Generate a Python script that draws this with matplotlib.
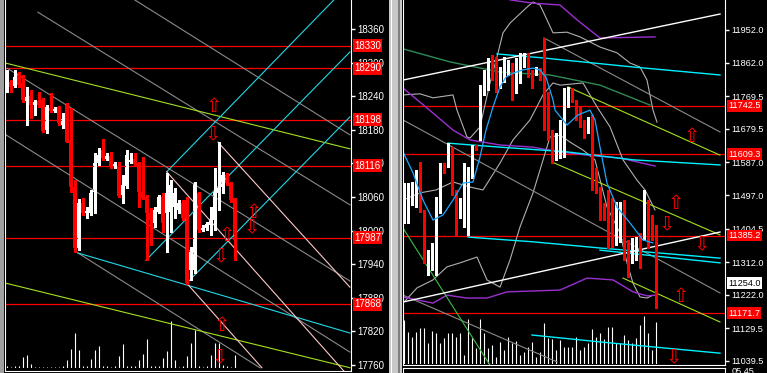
import matplotlib
matplotlib.use("Agg")
import matplotlib.pyplot as plt
from matplotlib.patches import Rectangle

plt.rcParams['font.family'] = ['Liberation Sans', 'DejaVu Sans']

# ---------------- left chart (index 17xxx / 18xxx) ----------------
l_open = [18257, 18265, 18258, 18282, 18264, 18232, 18240, 18224, 18232, 18233,
          18180, 18219, 18214, 18221, 18189, 18224, 18162, 18078, 17969, 18049,
          18032, 18032, 18069, 18121, 18144, 18128, 18133, 18114, 18115, 18064,
          18080, 18123, 18128, 18121, 18069, 18060, 18032, 18014, 18033, 18060,
          18032, 18033, 18042, 18037, 18049, 18055, 17930, 17930, 18067, 18001,
          18005, 18010, 18019, 18067, 18078, 18099, 18085, 18058]
l_close = [18269, 18257, 18274, 18260, 18233, 18239, 18224, 18230, 18224, 18178,
           18221, 18214, 18217, 18192, 18199, 18158, 18078, 17969, 18049, 18032,
           18035, 18067, 18121, 18135, 18130, 18133, 18114, 18119, 18062, 18082,
           18135, 18126, 18119, 18069, 18058, 18032, 18019, 18037, 18060, 18014,
           18067, 18082, 18067, 18049, 18023, 17907, 17962, 18085, 18001, 18005,
           18012, 18021, 18069, 18076, 18099, 18085, 18055, 17983]
l_high = [18287, 18269, 18287, 18283, 18278, 18257, 18251, 18233, 18248, 18237,
          18224, 18246, 18221, 18223, 18210, 18228, 18219, 18090, 18057, 18058,
          18042, 18073, 18139, 18148, 18164, 18139, 18140, 18123, 18123, 18099,
          18144, 18139, 18139, 18123, 18132, 18064, 18040, 18042, 18064, 18067,
          18103, 18090, 18076, 18055, 18055, 18060, 17971, 18087, 18069, 18010,
          18015, 18042, 18112, 18158, 18105, 18103, 18087, 18058]
l_low = [18248, 18248, 18257, 18257, 18230, 18189, 18201, 18207, 18221, 18176,
         18174, 18212, 18212, 18189, 18183, 18158, 18069, 17962, 17966, 18028,
         18023, 18028, 18032, 18117, 18126, 18126, 18112, 18112, 18060, 18049,
         18076, 18121, 18117, 18042, 18057, 17948, 17974, 18007, 18032, 17998,
         17962, 17998, 18023, 18032, 18019, 17905, 17912, 17924, 17998, 17999,
         18001, 17992, 18001, 18037, 18067, 18082, 18051, 17948]
l_vol = [5, 2, 5, 7, 33, 40, 13, 3, 3, 3, 3, 3, 3, 3, 5, 25, 57, 107, 53, 5,
         5, 27, 55, 65, 5, 5, 3, 5, 37, 73, 5, 5, 5, 25, 43, 87, 5, 7, 5, 30,
         50, 142, 25, 3, 5, 35, 77, 115, 5, 3, 5, 40, 75, 77, 10, 5, 3, 40]

l_ticks = [17760, 17820, 17880, 17940, 18000, 18060, 18120, 18180, 18240, 18300, 18360]
l_levels = [18330, 18290, 18198, 18116, 17987, 17868]

# trend lines: (bar index, price) pairs
l_gray = [[(7.8, 18390), (85.8, 18046)],
          [(0.1, 18290), (85.8, 17910)],
          [(-0.2, 18171), (85.8, 17783)],
          [(17.8, 17960), (63.3, 17755)],
          [(32.0, 18412), (85.8, 18171)]]
l_lime = [[(-0.2, 18299), (85.8, 18146)],
          [(-0.2, 17906), (85.8, 17755)]]
l_cyan = [[(17.8, 17960), (85.8, 17817)],
          [(40.0, 18105), (81.8, 18412)],
          [(34.8, 17947), (85.8, 18319)],
          [(45.0, 17906), (85.8, 18203)]]
l_pink = [[(40.0, 18105), (85.8, 17737)],
          [(52.8, 18158), (85.8, 17899)],
          [(45.0, 17906), (63.8, 17755)]]
l_up = [(51.8, 18221), (61.8, 18033), (55.1, 17992), (53.8, 17830)]
l_down = [(51.6, 18171), (61.3, 18005), (53.6, 17953), (53.3, 17772)]

# ---------------- right chart (11xxx) ----------------
r_open = [11436, 11464, 11489, 11503, 11561, 11456, 11323, 11332, 11345, 11475,
          11577, 11574, 11607, 11505, 11456, 11475, 11522, 11547, 11629, 11676,
          11792, 11814, 11864, 11842, 11800, 11822, 11842, 11850, 11814, 11842,
          11861, 11883, 11833, 11833, 11842, 11800, 11726, 11668, 11613, 11649,
          11654, 11751, 11787, 11745, 11731, 11698, 11671, 11712, 11566, 11497,
          11464, 11497, 11478, 11401, 11461, 11464, 11368, 11337, 11340, 11373,
          11381, 11423, 11414, 11373]
r_close = [11503, 11483, 11505, 11561, 11450, 11318, 11337, 11351, 11475, 11574,
           11572, 11607, 11511, 11461, 11478, 11519, 11547, 11629, 11624, 11795,
           11814, 11864, 11820, 11800, 11828, 11850, 11861, 11814, 11842, 11864,
           11869, 11828, 11820, 11842, 11828, 11704, 11657, 11599, 11654, 11696,
           11753, 11787, 11767, 11726, 11690, 11671, 11704, 11538, 11505, 11434,
           11436, 11387, 11392, 11464, 11470, 11337, 11318, 11368, 11359, 11318,
           11423, 11409, 11392, 11227]
r_high = [11530, 11530, 11533, 11566, 11588, 11456, 11345, 11365, 11492, 11585,
          11585, 11640, 11629, 11511, 11489, 11585, 11574, 11635, 11635, 11800,
          11842, 11875, 11883, 11878, 11850, 11878, 11869, 11861, 11875, 11889,
          11889, 11889, 11842, 11850, 11847, 11930, 11781, 11676, 11668, 11704,
          11792, 11795, 11792, 11759, 11740, 11704, 11712, 11718, 11572, 11519,
          11475, 11511, 11489, 11478, 11478, 11483, 11373, 11379, 11381, 11392,
          11511, 11483, 11442, 11414]
r_low = [11420, 11420, 11470, 11464, 11450, 11310, 11277, 11290, 11277, 11447,
         11558, 11574, 11497, 11387, 11434, 11409, 11387, 11544, 11621, 11649,
         11773, 11787, 11814, 11781, 11792, 11809, 11828, 11759, 11778, 11806,
         11850, 11822, 11792, 11828, 11814, 11676, 11649, 11585, 11594, 11599,
         11602, 11740, 11753, 11704, 11685, 11654, 11668, 11511, 11503, 11428,
         11428, 11351, 11354, 11359, 11368, 11318, 11271, 11310, 11318, 11296,
         11373, 11351, 11373, 11186]
r_vol = [132, 97, 82, 97, 107, 107, 62, 99, 92, 62, 77, 92, 92, 82, 92, 27,
         134, 77, 47, 134, 94, 47, 57, 22, 67, 42, 82, 62, 70, 27, 37, 52,
         67, 22, 37, 122, 77, 74, 42, 72, 52, 52, 52, 82, 42, 52, 62, 104,
         82, 94, 74, 112, 112, 62, 62, 87, 72, 62, 77, 117, 144, 92, 42, 125]

r_ticks = [11039.5, 11129.5, 11222.0, 11312.0, 11404.5, 11497.0, 11587.0,
           11679.5, 11769.5, 11862.0, 11952.0]
r_levels = [11742.5, 11609.3, 11385.2, 11171.7]
r_last = 11254.0

r_white = [[(-0.25, 11814), (79, 11996)],
           [(-0.25, 11202), (79, 11395)]]
r_cyan = [[(23.25, 11886), (34.75, 11875), (57.25, 11850), (79, 11828)],
          [(11, 11640), (24, 11629), (40.75, 11616), (57.25, 11594), (79, 11580)],
          [(16, 11381), (32.25, 11368), (49, 11351), (79, 11323)],
          [(49, 11345), (79, 11310)],
          [(32, 11111), (49, 11092), (79, 11061)]]
r_dkgreen = [(-0.25, 11900), (11.5, 11864), (24, 11836), (36.5, 11828),
             (49, 11800), (61.5, 11745)]
r_lime = [[(41, 11795), (79, 11607)],
          [(37, 11588), (79, 11387)],
          [(54.75, 11268), (79, 11147)]]
r_green = [(-0.25, 11406), (21.5, 11028)]
r_gray = [[(35, 11930), (79, 11671)],
          [(-0.25, 11704), (79, 11227)],
          [(-0.25, 11221), (38.25, 11037)]]
r_purple = [[(26.5, 12035), (32.25, 12026), (39, 12021), (43.25, 11980),
             (49, 11930), (62.75, 11933)],
            [(-0.25, 11792), (7.25, 11723), (12.25, 11676), (16.5, 11649),
             (24, 11635), (32.25, 11629), (39, 11616), (45.75, 11607),
             (54, 11599), (62.75, 11577)],
            [(-0.25, 11216), (7.25, 11199), (10.75, 11221), (15.75, 11213),
             (20.75, 11213), (25.75, 11230), (39, 11235), (45.75, 11268),
             (52.25, 11263), (57.25, 11230), (60.75, 11219), (63.25, 11221)]]
r_bands = [[(-0.25, 11773), (4, 11776), (7.25, 11765), (12.25, 11773),
            (13.25, 11731), (15.75, 11657), (16.5, 11654), (19, 11685),
            (21.5, 11806), (23.25, 11878), (24.75, 11944), (26.5, 11971),
            (30.75, 12015), (32.25, 12029), (34, 12021), (35.75, 11980),
            (37.25, 11944), (40.75, 11946), (44, 11933), (49, 11905),
            (53.25, 11889), (56.5, 11861), (59, 11850), (60.75, 11814),
            (62.25, 11731), (63.25, 11698)],
           [(-0.25, 11483), (4, 11503), (8, 11511), (12.25, 11533),
            (16.5, 11519), (19.75, 11511), (24, 11585), (27.25, 11649),
            (31.5, 11704), (34.75, 11773), (37.25, 11806), (39, 11800),
            (44.75, 11806), (48.25, 11740), (51.5, 11685), (54.75, 11594),
            (58.25, 11538), (60.25, 11511), (62.75, 11456)],
           [(-0.25, 11199), (3.25, 11241), (7.25, 11263), (10.75, 11299),
            (14, 11310), (18.25, 11326), (20.75, 11263), (24, 11243),
            (26.5, 11318), (29, 11409), (32.25, 11503), (34, 11566),
            (36.5, 11657), (39, 11662), (41.5, 11643), (44.75, 11621),
            (47.75, 11594), (50.75, 11464), (54, 11392), (55.75, 11310),
            (57.25, 11254), (59, 11216), (60.75, 11213), (62.25, 11221)]]
r_ma = [(-0.25, 11616), (2.25, 11558), (4.75, 11483), (7.25, 11428),
        (9.75, 11442), (12.25, 11483), (14.75, 11530), (17.25, 11533),
        (19, 11602), (20.5, 11676), (22.25, 11740), (24, 11795),
        (25.5, 11822), (27.25, 11833), (29.75, 11842), (32.25, 11847),
        (34, 11842), (35.5, 11822), (37.25, 11759), (37.75, 11731),
        (40.75, 11690), (43.5, 11718), (46.5, 11731), (47.75, 11704),
        (49, 11629), (50.75, 11530), (53.25, 11464), (56.5, 11420),
        (59.75, 11373), (62.25, 11365)]
r_up = [(72, 11657), (68, 11475), (69.25, 11216)]
r_down = [(65.75, 11414), (74.5, 11359), (67.5, 11048)]

W, H = 767, 373


def box(x0, y0, x1, y1):
    return [x0 / W, 1 - y1 / H, (x1 - x0) / W, (y1 - y0) / H]


def candles(ax, o, h, l, c, minh):
    for i in range(len(o)):
        col = 'white' if c[i] >= o[i] else '#ff0000'
        ax.vlines(i, l[i], h[i], color=col, lw=0.8, antialiased=False)
        lo = min(o[i], c[i])
        ht = max(abs(c[i] - o[i]), minh)
        ax.add_patch(Rectangle((i - 0.37, lo), 0.74, ht, fc=col, ec='none',
                               antialiased=False))


def lines(ax, segs, color, lw=0.8):
    for s in segs:
        ax.plot([p[0] for p in s], [p[1] for p in s], color=color, lw=lw)


def arrows(ax, ups, downs, size):
    for x, y in ups:
        ax.text(x, y, '\u21e7', color='#ff0000', fontsize=size, ha='center',
                va='center', family=['DejaVu Sans'], zorder=4)
    for x, y in downs:
        ax.text(x, y, '\u21e9', color='#ff0000', fontsize=size, ha='center',
                va='center', family=['DejaVu Sans'], zorder=4)


def style(ax, ticks, fmt, size):
    ax.set_facecolor('none')
    ax.spines['top'].set_visible(False)
    for s in ['left', 'right', 'bottom']:
        ax.spines[s].set_color('white')
    ax.set_xticks([])
    ax.yaxis.tick_right()
    ax.set_yticks(ticks)
    ax.set_yticklabels([fmt.format(t) for t in ticks])
    ax.tick_params(axis='y', colors='white', length=3, width=1, pad=1.5,
                   labelsize=size)


fig = plt.figure(figsize=(7.67, 3.73), dpi=100, facecolor='black')

# window chrome
fig.add_artist(Rectangle((0, 0), 4 / W, 1, transform=fig.transFigure,
                         fc='#a0a0a0', ec='none'))
fig.add_artist(Rectangle((389 / W, 0), 13 / W, 1, transform=fig.transFigure,
                         fc='#c8c8c8', ec='none'))
fig.add_artist(Rectangle((391 / W, 0), 1 / W, 1, transform=fig.transFigure,
                         fc='white', ec='none'))
fig.add_artist(Rectangle((398 / W, 0), 2 / W, 1, transform=fig.transFigure,
                         fc='#808080', ec='none'))

# ---- left panel ----
axlv = fig.add_axes(box(5, 0, 351, 368))
axlv.set_facecolor('black')
axlv.vlines(range(len(l_vol)), 0, l_vol, color='white', lw=0.8)
axlv.set_xlim(-0.425, 86.075)
axlv.set_ylim(0, 1112)
axlv.axis('off')

axl = fig.add_axes(box(5, 0, 351, 371))
axl.set_xlim(-0.425, 86.075)
axl.set_ylim(17749.2, 18411.8)
style(axl, l_ticks, '{:.0f}', 7)
for lv in l_levels:
    axl.axhline(lv, color='#ff0000', lw=0.9)
lines(axl, l_gray, '#8a8a8a')
lines(axl, l_lime, '#a6e01e')
lines(axl, l_cyan, '#22d8e8')
lines(axl, l_pink, '#ffc8c8')
candles(axl, l_open, l_high, l_low, l_close, 1.8)
arrows(axl, l_up, l_down, 14)
for lv in l_levels:
    axl.annotate('{:.0f}'.format(lv), xy=(1, lv), xycoords=axl.get_yaxis_transform(),
                 xytext=(3, 0), textcoords='offset pixels', ha='left', va='center',
                 color='white', fontsize=7, annotation_clip=False, zorder=5,
                 bbox=dict(boxstyle='square,pad=0.15', fc='#ff0000', ec='none'))

# ---- right panel ----
axrv = fig.add_axes(box(403, 0, 725, 364))
axrv.set_facecolor('black')
axrv.vlines(range(len(r_vol)), 0, r_vol, color='white', lw=0.8)
axrv.set_xlim(-0.25, 80.25)
axrv.set_ylim(0, 1092)
axrv.axis('off')

axr = fig.add_axes(box(403, 0, 725, 365))
axr.set_xlim(-0.25, 80.25)
axr.set_ylim(11028.4, 12034.7)
style(axr, r_ticks, '{:.1f}', 6.6)
for lv in r_levels:
    axr.axhline(lv, color='#ff0000', lw=0.9)
lines(axr, r_bands, '#b0b0b0')
lines(axr, r_gray, '#8a8a8a')
lines(axr, r_purple, '#9b30d0', 1.0)
lines(axr, [r_dkgreen], '#2e8b57', 1.0)
lines(axr, r_lime, '#a6e01e')
lines(axr, [r_green], '#3cc040')
lines(axr, r_cyan, '#00f0ff', 1.0)
lines(axr, r_white, 'white', 1.0)
candles(axr, r_open, r_high, r_low, r_close, 2.8)
lines(axr, [r_ma], '#1ea8ff', 0.9)
arrows(axr, r_up, r_down, 14)
for lv in r_levels:
    axr.annotate('{:.1f}'.format(lv), xy=(1, lv), xycoords=axr.get_yaxis_transform(),
                 xytext=(3, 0), textcoords='offset pixels', ha='left', va='center',
                 color='white', fontsize=6.6, annotation_clip=False, zorder=5,
                 bbox=dict(boxstyle='square,pad=0.15', fc='#ff0000', ec='none'))
axr.annotate('{:.1f}'.format(r_last), xy=(1, r_last), xycoords=axr.get_yaxis_transform(),
             xytext=(3, 0), textcoords='offset pixels', ha='left', va='center',
             color='black', fontsize=6.6, annotation_clip=False, zorder=5,
             bbox=dict(boxstyle='square,pad=0.15', fc='white', ec='none'))
axr.text(1, 12042.0, ' - 12042.0', transform=axr.get_yaxis_transform(), color='white',
         fontsize=6.6, ha='left', va='center', clip_on=False)

# bottom sub-window (indicator pane, mostly cut off)
axs = fig.add_axes(box(403, 368, 725, 380))
axs.set_facecolor('black')
axs.set_xticks([])
axs.set_yticks([])
for s in axs.spines.values():
    s.set_color('white')
fig.text(732 / W, 1 - 372 / H, '05.45', color='white', fontsize=6.6, va='center')

fig.savefig('out.png', dpi=100, facecolor='black')
